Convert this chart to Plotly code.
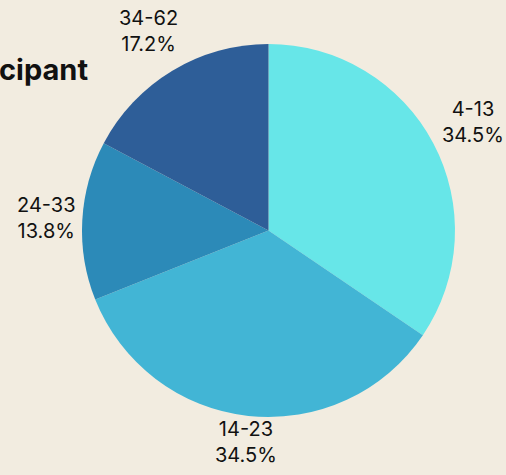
import math
import plotly.graph_objects as go

age_groups = ["4-13", "14-23", "24-33", "34-62"]
counts = [10, 10, 4, 5]
colors = ["#67E6E8", "#42B5D5", "#2C8AB8", "#2E5E98"]

W, H = 506, 475
ML, MR, MT, MB = 82, 51, 44, 58
pw, ph = W - ML - MR, H - MT - MB
cx, cy = ML + pw / 2, MT + ph / 2
rad = min(pw, ph) / 2

fig = go.Figure(go.Pie(
    labels=age_groups,
    values=counts,
    sort=False,
    direction="clockwise",
    rotation=0,
    marker=dict(colors=colors, line=dict(width=0)),
    textinfo="none",
    showlegend=False,
    hovertemplate="%{label}<br>%{percent}<extra></extra>",
))

# outside labels placed along each slice's mid-angle
total = sum(counts)
cum = 0
annotations = []
for lab, v in zip(age_groups, counts):
    theta = 2 * math.pi * (cum + v / 2) / total
    cum += v
    s, c = math.sin(theta), math.cos(theta)
    d = rad + 37.4 + 11.4 * c + 2.6 * s
    px = cx + d * s
    py = cy - d * c
    annotations.append(dict(
        x=(px - ML) / pw, y=1 - (py - MT) / ph, xref="paper", yref="paper",
        text=f"{lab}<br>{100 * v / total:.1f}%", showarrow=False,
        xanchor="center", yanchor="middle", align="center",
        font=dict(family="Inter", size=20, color="#111111"),
    ))

fig.update_layout(
    width=W, height=H,
    paper_bgcolor="#F2ECE0",
    plot_bgcolor="#F2ECE0",
    title=dict(text="<b>Age Distribution by Participant</b>", x=0.174, xanchor="right", xref="container",
               y=0.852, yanchor="middle", font=dict(family="Inter", size=29, color="#111111")),
    margin=dict(l=ML, r=MR, t=MT, b=MB),
    annotations=annotations,
)

fig.write_html(
    "out.html",
    config={"displayModeBar": False},
    post_script="document.body.style.margin='0';document.body.style.backgroundColor='#F2ECE0';document.documentElement.style.overflow='hidden';",
)
